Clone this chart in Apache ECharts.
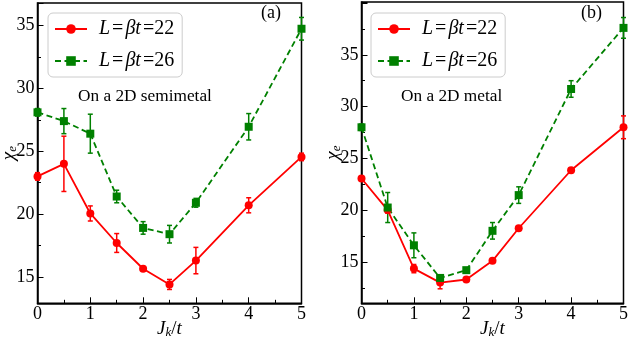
<!DOCTYPE html>
<html><head><meta charset="utf-8">
<script src="https://cdn.jsdelivr.net/npm/echarts@6/dist/echarts.min.js"></script>
<style>html,body{margin:0;padding:0;background:#fff}#c{width:631px;height:343px}</style>
</head><body><div id="c"></div>
<script>
// J_k / t values
const jk = [0, 0.5, 1, 1.5, 2, 2.5, 3, 4, 5];
// (a) On a 2D semimetal
const a22 = [23.0, 24.0, 20.05, 17.7, 15.65, 14.4, 16.3, 20.7, 24.55];
const a22err = [0.3, 2.2, 0.6, 0.75, 0.15, 0.4, 1.05, 0.6, 0.3];
const a26 = [28.1, 27.4, 26.4, 21.4, 18.9, 18.4, 20.9, 26.95, 34.75];
const a26err = [0.3, 1.0, 1.55, 0.5, 0.5, 0.7, 0.35, 1.05, 0.9];
// (b) On a 2D metal
const b22 = [23.05, 20.0, 14.35, 13.0, 13.3, 15.1, 18.25, 23.85, 28.0];
const b22err = [0.2, 0.3, 0.4, 0.6, 0.2, 0.2, 0.2, 0.2, 1.1];
const b26 = [28.0, 20.25, 16.6, 13.45, 14.2, 18.0, 21.45, 31.7, 37.6];
const b26err = [0.3, 1.45, 1.2, 0.3, 0.2, 0.8, 0.8, 0.8, 1.0];
const seriesNames = ['L=βt=22', 'L=βt=26'];
const xTickLabels = ['0', '1', '2', '3', '4', '5'];
const yTickLabels = ['15', '20', '25', '30', '35'];

const RED = '#ff0000', GREEN = '#008000';
const FONT = 'Liberation Serif';

const pts = ys => jk.map((x, i) => [x, ys[i]]);
const errPts = (ys, es) => jk.map((x, i) => [x, ys[i], es[i]]);

function errRender(params, api) {
  const x = api.value(0), y = api.value(1), e = api.value(2);
  const t = api.coord([x, y + e]), b = api.coord([x, y - e]);
  const w = 2.5;
  const style = { stroke: api.visual('color'), lineWidth: 1.5 };
  return { type: 'group', children: [
    { type: 'line', shape: { x1: t[0], y1: t[1], x2: b[0], y2: b[1] }, style },
    { type: 'line', shape: { x1: t[0] - w, y1: t[1], x2: t[0] + w, y2: t[1] }, style },
    { type: 'line', shape: { x1: b[0] - w, y1: b[1], x2: b[0] + w, y2: b[1] }, style }
  ]};
}

function xAxis(gi) {
  return {
    type: 'value', gridIndex: gi, min: 0, max: 5, interval: 1,
    name: '{i|J}{s|k}{n|/}{i|t}', nameLocation: 'middle', nameGap: 15, nameMoveOverlap: false,
    nameTextStyle: { rich: {
      i: { fontFamily: FONT, fontStyle: 'italic', fontSize: 19, color: '#000' },
      n: { fontFamily: FONT, fontSize: 19, color: '#000' },
      s: { fontFamily: FONT, fontStyle: 'italic', fontSize: 13, color: '#000', verticalAlign: 'bottom', padding: [8, 0, 0, 0] }
    }},
    axisLine: { show: true, lineStyle: { color: '#000', width: 1.5 } },
    axisTick: { show: true, inside: true, length: 6, lineStyle: { color: '#000', width: 1 } },
    minorTick: { show: true, splitNumber: 2, length: 3.5, lineStyle: { color: '#000', width: 1 } },
    splitLine: { show: false },
    axisLabel: { fontFamily: FONT, fontSize: 18, color: '#000', margin: 2,
      formatter: v => xTickLabels.indexOf(String(v)) >= 0 ? String(v) : '' }
  };
}
function yAxis(gi, mn, mx) {
  return {
    type: 'value', gridIndex: gi, min: mn, max: mx,
    name: '{c|χ}{s|e}', nameLocation: 'middle', nameGap: 18, nameRotate: 90, nameMoveOverlap: false,
    nameTextStyle: { rich: {
      c: { fontFamily: FONT, fontStyle: 'italic', fontSize: 19, color: '#000' },
      s: { fontFamily: FONT, fontStyle: 'italic', fontSize: 13, color: '#000', verticalAlign: 'bottom', padding: [8, 0, 0, 0] }
    }},
    axisLine: { show: true, lineStyle: { color: '#000', width: 1.5 } },
    axisTick: { show: true, inside: true, length: 6, lineStyle: { color: '#000', width: 1 } },
    minorTick: { show: true, splitNumber: 2, length: 3.5, lineStyle: { color: '#000', width: 1 } },
    splitLine: { show: false },
    axisLabel: { fontFamily: FONT, fontSize: 18, color: '#000', margin: 3,
      formatter: v => yTickLabels.indexOf(String(v)) >= 0 ? String(v) : '' }
  };
}
function lineSeries(gi, name, ys, color, symbol, dashed) {
  return {
    type: 'line', name, xAxisIndex: gi, yAxisIndex: gi, data: pts(ys),
    symbol, symbolSize: 8, z: 3,
    itemStyle: { color },
    lineStyle: { color, width: 1.8, type: dashed ? [6, 3.5] : 'solid' }
  };
}
function errSeries(gi, ys, es, color) {
  return {
    type: 'custom', xAxisIndex: gi, yAxisIndex: gi, data: errPts(ys, es),
    renderItem: errRender, z: 2, itemStyle: { color },
    encode: { x: 0, y: 1 }
  };
}
function legend(left) {
  return {
    left, top: 13, orient: 'vertical', itemGap: 12, itemWidth: 32, itemHeight: 12,
    padding: [6, 8, 6, 6], borderColor: '#cccccc', borderWidth: 1, borderRadius: 5,
    backgroundColor: '#fff',
    data: seriesNames,
    formatter: n => '{i|L}{n|=}{i|βt}{n|=' + n.split('=')[2] + '}',
    textStyle: { padding: [0, 0, 0, 6], rich: {
      i: { fontFamily: FONT, fontStyle: 'italic', fontSize: 20, color: '#000', padding: [0, 1, 0, 1] },
      n: { fontFamily: FONT, fontSize: 20, color: '#000', padding: [0, 1, 0, 1] }
    }}
  };
}

const chart = echarts.init(document.getElementById('c'), null, { renderer: 'canvas' });
chart.setOption({
  animation: false,
  backgroundColor: '#fff',
  grid: [
    { left: 37.5, top: 3, right: 329.5, bottom: 39.7, show: true, borderColor: '#000', borderWidth: 1.5, containLabel: false, outerBoundsMode: 'none' },
    { left: 361.5, top: 2, right: 7.5, bottom: 39.7, show: true, borderColor: '#000', borderWidth: 1.5, containLabel: false, outerBoundsMode: 'none' }
  ],
  xAxis: [xAxis(0), xAxis(1)],
  yAxis: [yAxis(0, 12.9, 36.8), yAxis(1, 11.0, 40.1)],
  legend: [legend(48), legend(371)],
  graphic: [
    { type: 'text', left: 78, top: 88, style: { text: 'On a 2D semimetal', fontFamily: FONT, fontSize: 17.3, fill: '#000' } },
    { type: 'text', left: 401, top: 88, style: { text: 'On a 2D metal', fontFamily: FONT, fontSize: 17.3, fill: '#000' } },
    { type: 'text', left: 261, top: 4, style: { text: '(a)', fontFamily: FONT, fontSize: 18, fill: '#000' } },
    { type: 'text', left: 581, top: 4, style: { text: '(b)', fontFamily: FONT, fontSize: 18, fill: '#000' } }
  ],
  series: [
    lineSeries(0, seriesNames[0], a22, RED, 'circle', false),
    lineSeries(0, seriesNames[1], a26, GREEN, 'rect', true),
    lineSeries(1, seriesNames[0], b22, RED, 'circle', false),
    lineSeries(1, seriesNames[1], b26, GREEN, 'rect', true),
    errSeries(0, a22, a22err, RED),
    errSeries(0, a26, a26err, GREEN),
    errSeries(1, b22, b22err, RED),
    errSeries(1, b26, b26err, GREEN)
  ]
});
</script></body></html>
